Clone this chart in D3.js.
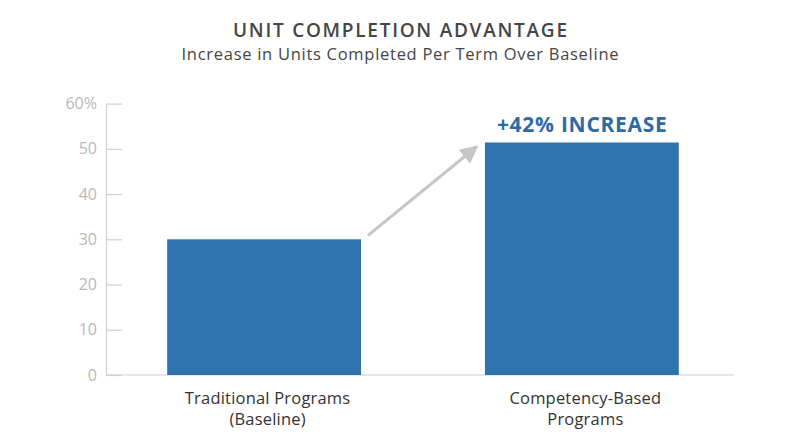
<!DOCTYPE html>
<html><head><meta charset="utf-8">
<script src="https://cdn.jsdelivr.net/npm/d3@7"></script>
<style>
html,body{margin:0;padding:0;background:#fff;}
svg{display:block;font-family:"Open Sans",Lato,sans-serif;}
</style></head>
<body><svg id="c" width="800" height="447"></svg>
<script>
const categories = [["Traditional Programs","(Baseline)"],["Competency-Based","Programs"]];
const categoryKeys = ["traditional","competency"];
const values = [30, 51.4];
const yTicks = [0,10,20,30,40,50,60];
const annotation = "+42% INCREASE";
const title = "UNIT COMPLETION ADVANTAGE";
const subtitle = "Increase in Units Completed Per Term Over Baseline";

const svg = d3.select("#c");
const y = d3.scaleLinear().domain([0,60]).range([375,103.6]);
const x = d3.scaleBand().domain(categoryKeys).range([110,736]).paddingInner(0.39).paddingOuter(0.18);

// spread text to a target width with letter-spacing, keep centred
function fit(sel, target){
  const n = sel.text().length;
  const w = sel.node().getComputedTextLength();
  const ls = (target - w) / (n - 1);
  sel.attr("letter-spacing", ls).attr("x", +sel.attr("x") + ls/2);
  return sel;
}

fit(svg.append("text").attr("x",400).attr("y",37).attr("text-anchor","middle")
  .attr("font-size",19).attr("font-weight",600).attr("fill","#454545").text(title), 334);
fit(svg.append("text").attr("x",400).attr("y",60).attr("text-anchor","middle")
  .attr("font-size",16.5).attr("fill","#454545").text(subtitle), 437);

// y axis
const yAxis = d3.axisLeft(y).tickValues(yTicks).tickSize(0).tickPadding(9)
  .tickFormat(d => d===60 ? "60%" : String(d));
const gy = svg.append("g").attr("transform","translate(106,0)").call(yAxis);
gy.select(".domain").attr("stroke","#d0d0d0").attr("stroke-width",1.2);
gy.selectAll(".tick text").attr("font-size",16).attr("fill","#b8b8b8").attr("font-family","'Open Sans',sans-serif");
gy.selectAll(".tick").append("line").attr("x1",0).attr("x2",16).attr("stroke","#d0d0d0").attr("stroke-width",1.2);

// baseline
svg.append("line").attr("x1",106).attr("x2",734).attr("y1",y(0)).attr("y2",y(0))
  .attr("stroke","#d0d0d0").attr("stroke-width",1.2);

// bars
svg.selectAll("rect.bar").data(values).join("rect").attr("class","bar")
  .attr("x",(d,i)=>x(categoryKeys[i])).attr("width",x.bandwidth())
  .attr("y",d=>y(d)).attr("height",d=>y(0)-y(d)).attr("fill","#2e72ae");

// category labels
categories.forEach((lines,i)=>{
  const cx = x(categoryKeys[i]) + x.bandwidth()/2 + 3.5;
  lines.forEach((t,j)=>{
    svg.append("text").attr("x",cx).attr("y",403.5+j*21).attr("text-anchor","middle")
      .attr("font-size",16.5).attr("letter-spacing",0.2).attr("fill","#333").text(t);
  });
});

// annotation
fit(svg.append("text").attr("x",x(categoryKeys[1])+x.bandwidth()/2).attr("y",y(values[1])-11)
  .attr("text-anchor","middle").attr("font-size",21).attr("font-weight",700)
  .attr("fill","#2e6aa8").text(annotation), 170);

// arrow
const defs = svg.append("defs");
defs.append("marker").attr("id","ah").attr("viewBox","0 0 10 10").attr("refX",9).attr("refY",5)
  .attr("markerWidth",6).attr("markerHeight",6).attr("orient","auto")
  .append("path").attr("d","M0,0L10,5L0,10Z").attr("fill","#c6c6c6");
const x1 = x(categoryKeys[0]) + x.bandwidth() + 7, y1 = y(values[0]) - 4;
const x2 = x(categoryKeys[1]) - 8, y2 = y(values[1]) + 4;
svg.append("line").attr("x1",x1).attr("y1",y1).attr("x2",x2).attr("y2",y2)
  .attr("stroke","#c6c6c6").attr("stroke-width",3).attr("marker-end","url(#ah)");
</script></body></html>
